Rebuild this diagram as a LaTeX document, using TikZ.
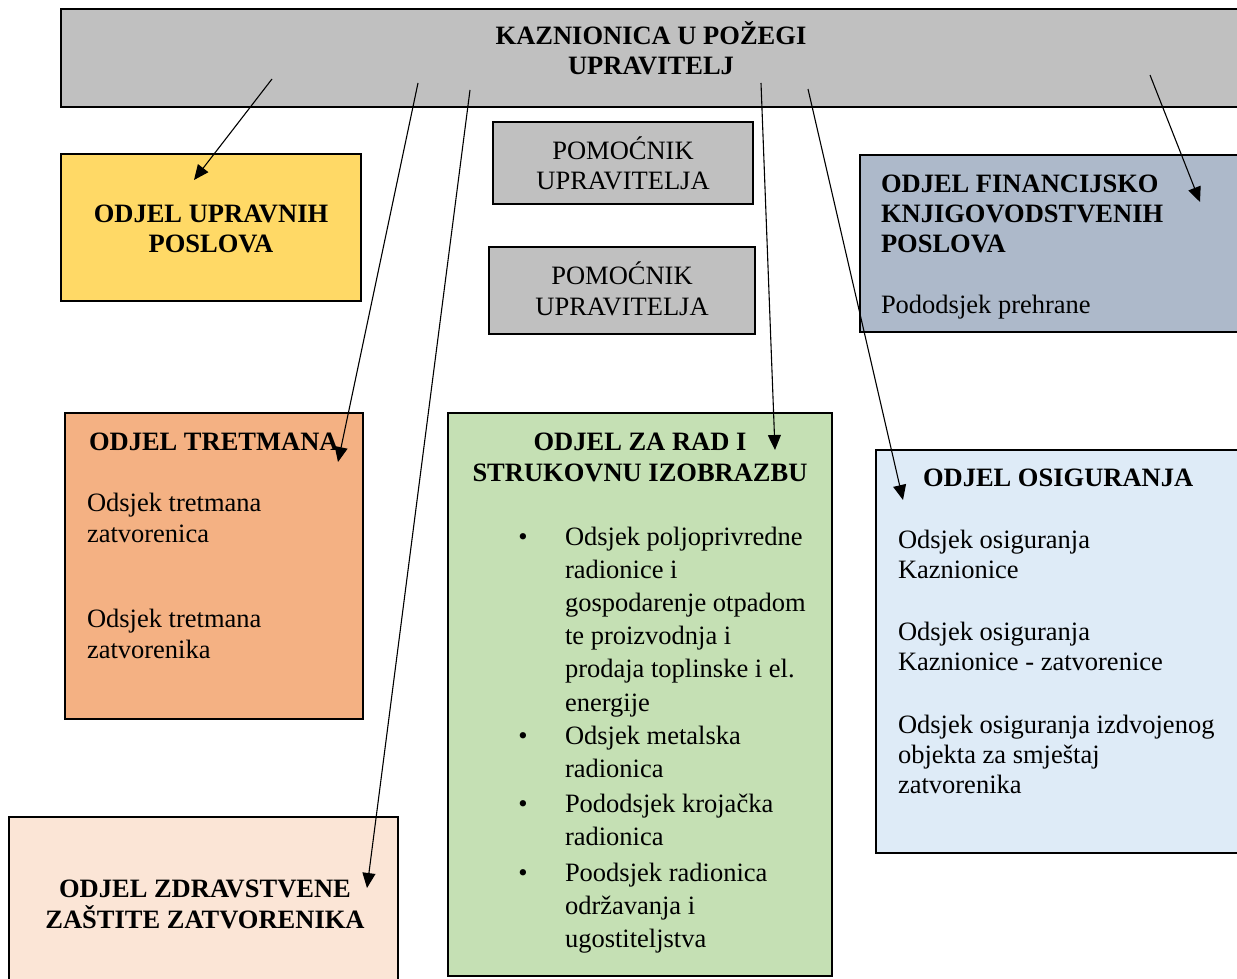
\documentclass[tikz,border=0pt]{standalone}
\usepackage{fontspec}
\setmainfont{Liberation Serif}
\usetikzlibrary{arrows.meta}
\definecolor{cgray}{HTML}{C0C0C0}
\definecolor{cyellow}{HTML}{FFD966}
\definecolor{cblue}{HTML}{ADB9CA}
\definecolor{corange}{HTML}{F4B183}
\definecolor{cgreen}{HTML}{C5E0B4}
\definecolor{clight}{HTML}{DEEBF7}
\definecolor{cpeach}{HTML}{FBE5D6}
\newcommand\myfs[1]{\fontsize{26.5}{#1}\selectfont}
\newcommand\lines[2]{\myfs{#1}\begin{tabular}[t]{@{}l@{}}#2\end{tabular}}
\newcommand\clines[2]{\myfs{#1}\begin{tabular}[t]{@{}c@{}}#2\end{tabular}}
\tikzset{
  box/.style={draw=black, line width=2.2pt, anchor=north west, inner sep=0pt, outer sep=0pt},
  txt/.style={inner sep=0pt, outer sep=0pt, anchor=base west},
  ctxt/.style={inner sep=0pt, outer sep=0pt, anchor=base},
  conn/.style={line width=1.1pt, -{Triangle[length=15pt,width=13pt]}}
}
\begin{document}
\begin{tikzpicture}[x=1pt,y=-1pt]
\useasboundingbox (0,0) rectangle (1237,979);
\clip (0,0) rectangle (1237,979);
% boxes
\node[box, fill=cgray, minimum width=1180pt, minimum height=98pt] (top) at (61,9) {};
\node[box, fill=cyellow, minimum width=300pt, minimum height=147pt] (upr) at (61,154) {};
\node[box, fill=cgray, minimum width=260pt, minimum height=82pt] (pom1) at (493,122) {};
\node[box, fill=cgray, minimum width=266pt, minimum height=87pt] (pom2) at (489,247) {};
\node[box, fill=cblue, minimum width=380pt, minimum height=177pt] (fin) at (860,155) {};
\node[box, fill=corange, minimum width=298pt, minimum height=306pt] (tret) at (65,413) {};
\node[box, fill=cgreen, minimum width=384pt, minimum height=563pt] (rad) at (448,413) {};
\node[box, fill=clight, minimum width=365pt, minimum height=403pt] (osig) at (876,450) {};
\node[box, fill=cpeach, minimum width=389pt, minimum height=180pt] (zdr) at (9,817) {};
% texts
\node[ctxt] (top-t) at (651,45) {\clines{30}{\bfseries KAZNIONICA U POŽEGI\\\bfseries UPRAVITELJ}};
\node[ctxt] (upr-t) at (211,222) {\clines{31}{\bfseries ODJEL UPRAVNIH\\\bfseries POSLOVA}};
\node[ctxt] (pom1-t) at (623,160) {\clines{30}{POMOĆNIK\\UPRAVITELJA}};
\node[ctxt] (pom2-t) at (622,284) {\clines{31}{POMOĆNIK\\UPRAVITELJA}};
\node[txt] (fin-t) at (881,192) {\lines{30}{\bfseries ODJEL FINANCIJSKO\\\bfseries KNJIGOVODSTVENIH\\\bfseries POSLOVA}};
\node[txt] (fin-b) at (881,313) {\myfs{30}Pododsjek prehrane};
\node[txt] (tret-t) at (89,450) {\myfs{30}\bfseries ODJEL TRETMANA};
\node[txt] (tret-b1) at (87,511) {\lines{31}{Odsjek tretmana\\zatvorenica}};
\node[txt] (tret-b2) at (87,627) {\lines{31}{Odsjek tretmana\\zatvorenika}};
\node[ctxt] (rad-t) at (640,450) {\clines{31}{\bfseries ODJEL ZA RAD I\\\bfseries STRUKOVNU IZOBRAZBU}};
\node[ctxt] (rad-d1) at (523,545) {\myfs{33}\textbullet};
\node[ctxt] (rad-d2) at (523,744) {\myfs{33}\textbullet};
\node[ctxt] (rad-d3) at (523,812) {\myfs{33}\textbullet};
\node[ctxt] (rad-d4) at (523,881) {\myfs{33}\textbullet};
\node[txt] (rad-i1) at (565,545) {\lines{33.2}{Odsjek poljoprivredne\\radionice i\\gospodarenje otpadom\\te proizvodnja i\\prodaja toplinske i el.\\energije}};
\node[txt] (rad-i2) at (565,744) {\lines{33.2}{Odsjek metalska\\radionica}};
\node[txt] (rad-i3) at (565,812) {\lines{33.2}{Pododsjek krojačka\\radionica}};
\node[txt] (rad-i4) at (565,881) {\lines{33.2}{Poodsjek radionica\\održavanja i\\ugostiteljstva}};
\node[txt] (osig-t) at (923,486) {\myfs{30}\bfseries ODJEL OSIGURANJA};
\node[txt] (osig-b1) at (898,548) {\lines{30.5}{Odsjek osiguranja\\Kaznionice}};
\node[txt] (osig-b2) at (898,640) {\lines{30.5}{Odsjek osiguranja\\Kaznionice - zatvorenice}};
\node[txt] (osig-b3) at (898,733) {\lines{30}{Odsjek osiguranja izdvojenog\\objekta za smještaj\\zatvorenika}};
\node[ctxt] (zdr-t) at (205,897) {\clines{29}{\bfseries ODJEL ZDRAVSTVENE\\\bfseries ZAŠTITE ZATVORENIKA}};
% connector end points
\coordinate (ta) at (272,79);
\coordinate (tb) at (418,83);
\coordinate (tc) at (470,90);
\coordinate (td) at (761,83);
\coordinate (te) at (808,89);
\coordinate (tf) at (1150,75);
\coordinate (ea) at (194,180);
\coordinate (eb) at (338,462);
\coordinate (ec) at (367,888);
\coordinate (ed) at (775,450);
\coordinate (ee) at (903,500);
\coordinate (ef) at (1200,202);
% connectors
\draw[conn] (ta) -- (ea);
\draw[conn] (tb) -- (eb);
\draw[conn] (tc) -- (ec);
\draw[conn] (td) -- (ed);
\draw[conn] (te) -- (ee);
\draw[conn] (tf) -- (ef);
\end{tikzpicture}
\end{document}
